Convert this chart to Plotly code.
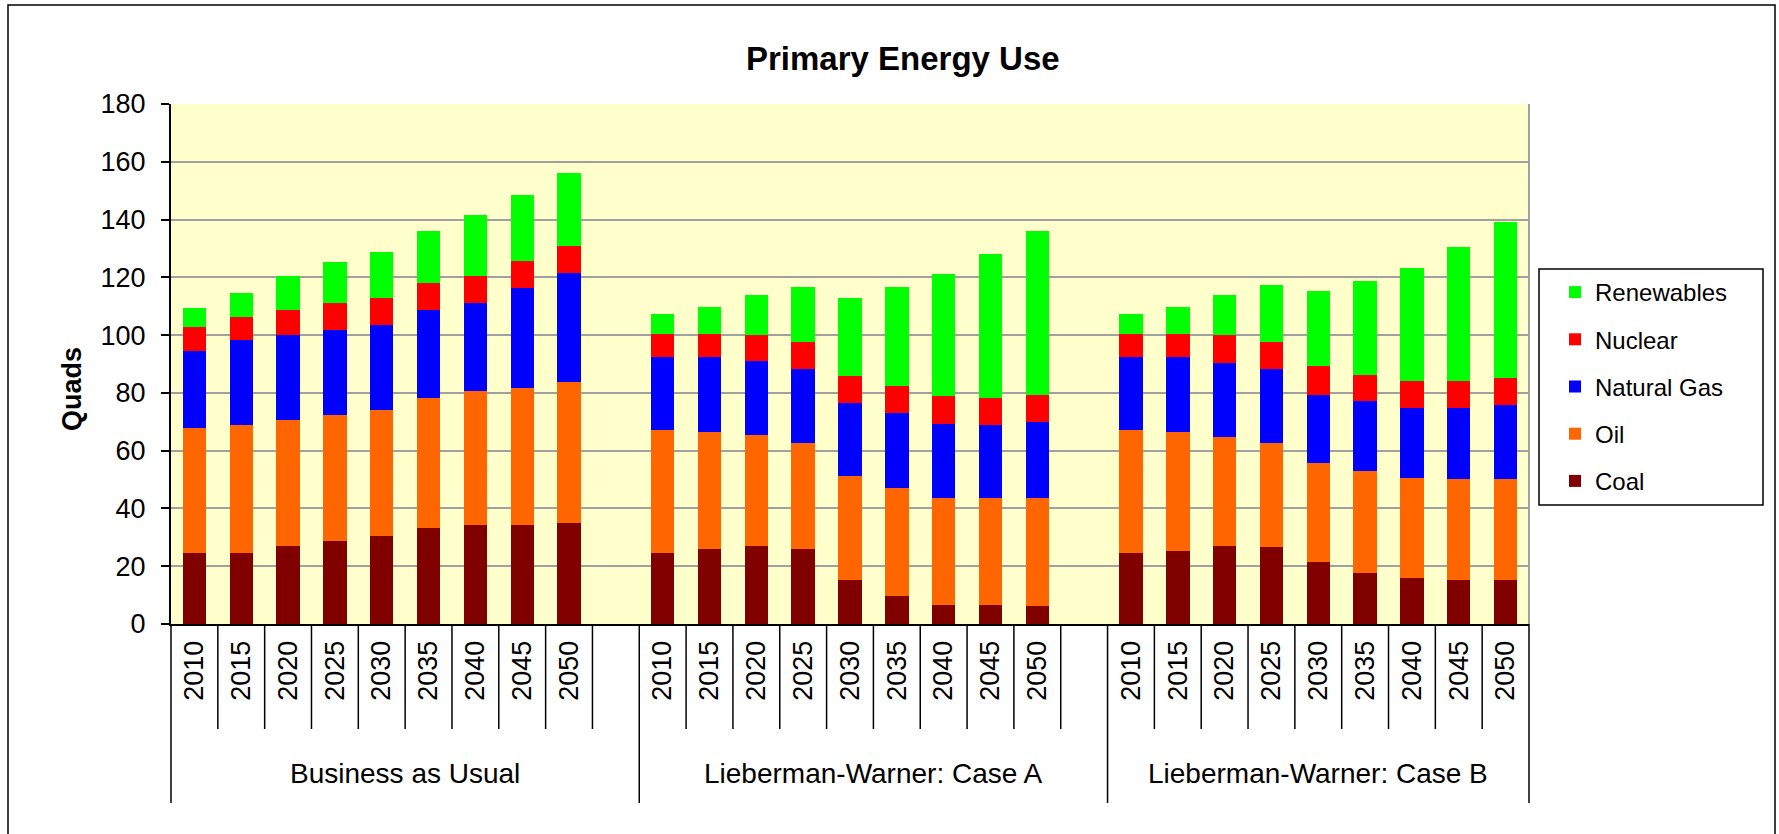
import plotly.graph_objects as go

groups = ["Business as Usual", "Lieberman-Warner: Case A", "Lieberman-Warner: Case B"]
years = ["2010", "2015", "2020", "2025", "2030", "2035", "2040", "2045", "2050"]

# quads per source, group by group (9 years each)
coal = [24.7, 24.7, 27.1, 28.8, 30.6, 33.4, 34.2, 34.2, 34.8,
        24.7, 25.9, 27.1, 25.9, 15.4, 9.6, 6.7, 6.7, 6.1,
        24.7, 25.4, 27.1, 26.5, 21.3, 17.7, 16.0, 15.4, 15.4]
oil = [43.0, 44.1, 43.5, 43.5, 43.5, 44.7, 46.4, 47.6, 48.8,
       42.5, 40.7, 38.3, 36.6, 35.9, 37.6, 36.9, 36.9, 37.5,
       42.5, 41.2, 37.7, 36.0, 34.6, 35.3, 34.7, 34.7, 34.7]
gas = [26.9, 29.4, 29.3, 29.3, 29.3, 30.7, 30.5, 34.5, 37.9,
       25.2, 25.8, 25.8, 25.7, 25.1, 25.7, 25.8, 25.2, 26.4,
       25.2, 25.8, 25.7, 25.7, 23.5, 24.1, 24.0, 24.6, 25.7]
nuclear = [8.1, 8.0, 8.8, 9.5, 9.4, 9.2, 9.3, 9.4, 9.4,
           8.1, 8.1, 8.7, 9.4, 9.4, 9.4, 9.4, 9.3, 9.4,
           8.1, 8.1, 9.4, 9.4, 9.8, 9.2, 9.4, 9.4, 9.3]
renewables = [6.6, 8.4, 11.9, 14.1, 15.8, 18.2, 21.2, 22.9, 25.3,
              6.9, 9.4, 14.1, 19.2, 27.0, 34.5, 42.2, 50.0, 56.8,
              6.9, 9.4, 14.1, 19.9, 25.9, 32.3, 39.3, 46.3, 54.1]

series = [("Coal", coal, "#800000"), ("Oil", oil, "#FF6600"),
          ("Natural Gas", gas, "#0000FF"), ("Nuclear", nuclear, "#FF0000"),
          ("Renewables", renewables, "#00FF00")]

FONT = "Liberation Sans, Arial, sans-serif"
W, H = 1779, 834
L, R, T, B = 171, 250, 104, 210
PW, PH = W - L - R, H - T - B


def px(x):
    return (x - L) / PW


def py(y):
    return (H - B - y) / PH


n = len(years)
step = n + 1  # one empty slot between scenarios
xpos = [g * step + i for g in range(len(groups)) for i in range(n)]
xtext = years * len(groups)
nslots = (len(groups) - 1) * step + n

fig = go.Figure()
for k, (name, vals, col) in enumerate(series):
    fig.add_trace(go.Bar(x=xpos, y=vals, name=name, width=0.5, legendgroup=name,
                         legendrank=len(series) - k,
                         marker=dict(color=col, line=dict(width=0))))

shapes = []
group_edges = [g * step for g in range(len(groups))] + [nslots]
for k in range(nslots + 1):
    bottom = 803 if k in group_edges else 729
    shapes.append(dict(type="line", xref="x domain", yref="paper",
                       x0=k / nslots, x1=k / nslots, y0=0, y1=py(bottom),
                       line=dict(color="black", width=1.5)))
# right edge of plot area
shapes.append(dict(type="line", xref="paper", yref="paper", x0=1, x1=1, y0=0, y1=1,
                   line=dict(color="#A0A0A0", width=2)))
# legend frame
shapes.append(dict(type="rect", xref="paper", yref="paper", x0=px(1539), x1=px(1763),
                   y0=py(505), y1=py(269), line=dict(color="black", width=1.5)))
# chart frame
shapes.append(dict(type="rect", xref="paper", yref="paper", x0=px(8), x1=px(1775),
                   y0=py(850), y1=py(5), line=dict(color="black", width=1.5)))

annotations = [
    dict(text="<b>Primary Energy Use</b>", xref="paper", yref="paper", x=px(903), y=py(58),
         xanchor="center", yanchor="middle", showarrow=False,
         font=dict(size=33, color="black", family=FONT)),
    dict(text="<b>Quads</b>", xref="paper", yref="paper", x=px(72), y=py(389), textangle=-90,
         xanchor="center", yanchor="middle", showarrow=False,
         font=dict(size=27, color="black", family=FONT)),
]
for g, gname in enumerate(groups):
    left = g * step - 0.5
    right = min(g * step + step, nslots) - 0.5
    annotations.append(dict(text=gname, xref="x", yref="paper", x=(left + right) / 2,
                            y=py(774), xanchor="center", yanchor="middle", showarrow=False,
                            font=dict(size=28, color="black", family=FONT)))

fig.update_layout(
    width=W, height=H, autosize=False,
    margin=dict(l=L, r=R, t=T, b=B),
    paper_bgcolor="white", plot_bgcolor="#FFFFCC",
    barmode="stack",
    font=dict(family=FONT, color="black"),
    xaxis=dict(range=[-0.5, nslots - 0.5], tickmode="array", tickvals=xpos, ticktext=xtext,
               tickangle=-90, ticks="", showline=True, linecolor="black", linewidth=2,
               showgrid=False, zeroline=False, ticklabelstandoff=4,
               tickfont=dict(size=27, color="black", family=FONT)),
    yaxis=dict(range=[0, 180], tick0=0, dtick=20, ticks="outside", ticklen=8, tickwidth=2,
               tickcolor="black", showline=True, linecolor="black", linewidth=2,
               gridcolor="#A0A0A0", gridwidth=2, zeroline=False, ticklabelstandoff=10,
               tickfont=dict(size=27, color="black", family=FONT)),
    legend=dict(x=px(1555), xanchor="left", y=py(270), yanchor="top",
                traceorder="grouped", tracegroupgap=13,
                bgcolor="rgba(0,0,0,0)", borderwidth=0,
                font=dict(size=24, color="black", family=FONT)),
    shapes=shapes, annotations=annotations, showlegend=True,
)

fig.write_html("out.html", config={"displayModeBar": False},
               post_script="document.body.style.margin = '0px';")
